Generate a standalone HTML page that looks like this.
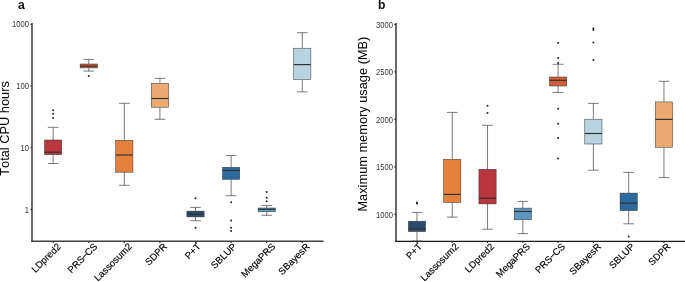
<!DOCTYPE html>
<html><head><meta charset="utf-8"><style>
html,body{margin:0;padding:0;background:#fff;}
svg{display:block;will-change:transform;}
text{font-family:"Liberation Sans",sans-serif;font-kerning:none;}
.tk{font-size:8.8px;fill:#333;}
.xl{font-size:9.6px;fill:#000;stroke:#000;stroke-width:0.15px;}
.pl{font-size:12.2px;font-weight:bold;fill:#111;}
.at{font-size:12.8px;fill:#000;}
</style></head><body>
<svg width="685" height="282" viewBox="0 0 685 282">
<g fill="none" stroke-linecap="butt">
<line x1="32.0" y1="23.0" x2="32.0" y2="242.0" stroke="#3a3a3a" stroke-width="1.5"/>
<line x1="31.3" y1="241.25" x2="323.6" y2="241.25" stroke="#404040" stroke-width="1.5"/>
<line x1="396.0" y1="22.9" x2="396.0" y2="242.0" stroke="#3a3a3a" stroke-width="1.5"/>
<line x1="395.3" y1="241.4" x2="685" y2="241.4" stroke="#1a1a1a" stroke-width="1.2"/>
</g>
<line x1="30.5" y1="24.3" x2="32" y2="24.3" stroke="#222" stroke-width="1.1"/>
<text class="tk" text-anchor="end" transform="translate(28.9,27.40) scale(0.87,1)">1000</text>
<line x1="30.5" y1="86.0" x2="32" y2="86.0" stroke="#222" stroke-width="1.1"/>
<text class="tk" text-anchor="end" transform="translate(28.9,89.10) scale(0.87,1)">100</text>
<line x1="30.5" y1="147.7" x2="32" y2="147.7" stroke="#222" stroke-width="1.1"/>
<text class="tk" text-anchor="end" transform="translate(28.9,150.80) scale(0.87,1)">10</text>
<line x1="30.5" y1="209.4" x2="32" y2="209.4" stroke="#222" stroke-width="1.1"/>
<text class="tk" text-anchor="end" transform="translate(28.9,212.50) scale(0.87,1)">1</text>
<line x1="394.4" y1="24.4" x2="396.0" y2="24.4" stroke="#222" stroke-width="1.1"/>
<text class="tk" text-anchor="end" transform="translate(392.9,27.50) scale(0.87,1)">3000</text>
<line x1="394.4" y1="71.9" x2="396.0" y2="71.9" stroke="#222" stroke-width="1.1"/>
<text class="tk" text-anchor="end" transform="translate(392.9,75.00) scale(0.87,1)">2500</text>
<line x1="394.4" y1="119.4" x2="396.0" y2="119.4" stroke="#222" stroke-width="1.1"/>
<text class="tk" text-anchor="end" transform="translate(392.9,122.50) scale(0.87,1)">2000</text>
<line x1="394.4" y1="166.9" x2="396.0" y2="166.9" stroke="#222" stroke-width="1.1"/>
<text class="tk" text-anchor="end" transform="translate(392.9,170.00) scale(0.87,1)">1500</text>
<line x1="394.4" y1="214.4" x2="396.0" y2="214.4" stroke="#222" stroke-width="1.1"/>
<text class="tk" text-anchor="end" transform="translate(392.9,217.50) scale(0.87,1)">1000</text>
<line x1="53.14" y1="127.30" x2="53.14" y2="140.00" stroke="#444444" stroke-width="0.7"/>
<line x1="53.14" y1="154.70" x2="53.14" y2="163.50" stroke="#444444" stroke-width="0.7"/>
<line x1="47.84" y1="127.30" x2="58.44" y2="127.30" stroke="#444444" stroke-width="0.7"/>
<line x1="47.84" y1="163.50" x2="58.44" y2="163.50" stroke="#444444" stroke-width="0.7"/>
<rect x="44.54" y="140.00" width="17.20" height="14.70" fill="#BA363E" stroke="#333333" stroke-width="0.5"/>
<line x1="44.54" y1="152.20" x2="61.74" y2="152.20" stroke="#333333" stroke-width="1.2"/>
<circle cx="53.14" cy="110.30" r="1.0" fill="#222"/>
<circle cx="53.14" cy="113.70" r="1.0" fill="#222"/>
<circle cx="53.14" cy="118.00" r="1.0" fill="#222"/>
<line x1="53.14" y1="241.5" x2="53.14" y2="243.0" stroke="#222" stroke-width="1.1"/>
<text class="xl" text-anchor="end" transform="translate(61.44,247.10) rotate(-45)">LDpred2</text>
<line x1="88.73" y1="59.40" x2="88.73" y2="64.00" stroke="#444444" stroke-width="0.7"/>
<line x1="88.73" y1="67.90" x2="88.73" y2="71.10" stroke="#444444" stroke-width="0.7"/>
<line x1="83.44" y1="59.40" x2="94.03" y2="59.40" stroke="#444444" stroke-width="0.7"/>
<line x1="83.44" y1="71.10" x2="94.03" y2="71.10" stroke="#444444" stroke-width="0.7"/>
<rect x="80.14" y="64.00" width="17.20" height="3.90" fill="#CF5E38" stroke="#333333" stroke-width="0.5"/>
<line x1="80.14" y1="66.20" x2="97.33" y2="66.20" stroke="#333333" stroke-width="1.2"/>
<circle cx="88.73" cy="76.10" r="1.0" fill="#222"/>
<line x1="88.73" y1="241.5" x2="88.73" y2="243.0" stroke="#222" stroke-width="1.1"/>
<text class="xl" text-anchor="end" transform="translate(98.03,247.10) rotate(-45)">PRS<tspan dx="-0.4">−</tspan><tspan dx="-0.6">CS</tspan></text>
<line x1="124.33" y1="103.30" x2="124.33" y2="140.30" stroke="#444444" stroke-width="0.7"/>
<line x1="124.33" y1="172.20" x2="124.33" y2="185.30" stroke="#444444" stroke-width="0.7"/>
<line x1="119.03" y1="103.30" x2="129.63" y2="103.30" stroke="#444444" stroke-width="0.7"/>
<line x1="119.03" y1="185.30" x2="129.63" y2="185.30" stroke="#444444" stroke-width="0.7"/>
<rect x="115.73" y="140.30" width="17.20" height="31.90" fill="#E5813B" stroke="#333333" stroke-width="0.5"/>
<line x1="115.73" y1="155.00" x2="132.93" y2="155.00" stroke="#333333" stroke-width="1.2"/>
<line x1="124.33" y1="241.5" x2="124.33" y2="243.0" stroke="#222" stroke-width="1.1"/>
<text class="xl" text-anchor="end" transform="translate(132.63,247.10) rotate(-45)">Lassosum2</text>
<line x1="159.93" y1="78.30" x2="159.93" y2="83.50" stroke="#444444" stroke-width="0.7"/>
<line x1="159.93" y1="107.20" x2="159.93" y2="119.30" stroke="#444444" stroke-width="0.7"/>
<line x1="154.62" y1="78.30" x2="165.23" y2="78.30" stroke="#444444" stroke-width="0.7"/>
<line x1="154.62" y1="119.30" x2="165.23" y2="119.30" stroke="#444444" stroke-width="0.7"/>
<rect x="151.33" y="83.50" width="17.20" height="23.70" fill="#EBAA72" stroke="#333333" stroke-width="0.5"/>
<line x1="151.33" y1="98.50" x2="168.53" y2="98.50" stroke="#333333" stroke-width="1.2"/>
<line x1="159.93" y1="241.5" x2="159.93" y2="243.0" stroke="#222" stroke-width="1.1"/>
<text class="xl" text-anchor="end" transform="translate(167.73,247.10) rotate(-45)">SDPR</text>
<line x1="195.52" y1="207.40" x2="195.52" y2="211.10" stroke="#444444" stroke-width="0.7"/>
<line x1="195.52" y1="216.90" x2="195.52" y2="220.70" stroke="#444444" stroke-width="0.7"/>
<line x1="190.22" y1="207.40" x2="200.82" y2="207.40" stroke="#444444" stroke-width="0.7"/>
<line x1="190.22" y1="220.70" x2="200.82" y2="220.70" stroke="#444444" stroke-width="0.7"/>
<rect x="186.92" y="211.10" width="17.20" height="5.80" fill="#2C4A6B" stroke="#333333" stroke-width="0.5"/>
<line x1="186.92" y1="214.30" x2="204.12" y2="214.30" stroke="#333333" stroke-width="1.2"/>
<circle cx="195.52" cy="198.30" r="1.0" fill="#222"/>
<circle cx="195.52" cy="227.80" r="1.0" fill="#222"/>
<line x1="195.52" y1="241.5" x2="195.52" y2="243.0" stroke="#222" stroke-width="1.1"/>
<text class="xl" text-anchor="end" transform="translate(201.42,247.10) rotate(-45)">P+T</text>
<line x1="231.12" y1="155.50" x2="231.12" y2="167.30" stroke="#444444" stroke-width="0.7"/>
<line x1="231.12" y1="179.40" x2="231.12" y2="195.70" stroke="#444444" stroke-width="0.7"/>
<line x1="225.81" y1="155.50" x2="236.42" y2="155.50" stroke="#444444" stroke-width="0.7"/>
<line x1="225.81" y1="195.70" x2="236.42" y2="195.70" stroke="#444444" stroke-width="0.7"/>
<rect x="222.52" y="167.30" width="17.20" height="12.10" fill="#2C6A9E" stroke="#333333" stroke-width="0.5"/>
<line x1="222.52" y1="170.50" x2="239.72" y2="170.50" stroke="#333333" stroke-width="1.2"/>
<circle cx="231.12" cy="202.20" r="1.0" fill="#222"/>
<circle cx="231.12" cy="220.40" r="1.0" fill="#222"/>
<circle cx="231.12" cy="227.80" r="1.0" fill="#222"/>
<circle cx="231.12" cy="231.00" r="1.0" fill="#222"/>
<line x1="231.12" y1="241.5" x2="231.12" y2="243.0" stroke="#222" stroke-width="1.1"/>
<text class="xl" text-anchor="end" transform="translate(237.02,247.10) rotate(-45)">SBLUP</text>
<line x1="266.71" y1="205.40" x2="266.71" y2="208.00" stroke="#444444" stroke-width="0.7"/>
<line x1="266.71" y1="211.80" x2="266.71" y2="215.30" stroke="#444444" stroke-width="0.7"/>
<line x1="261.41" y1="205.40" x2="272.01" y2="205.40" stroke="#444444" stroke-width="0.7"/>
<line x1="261.41" y1="215.30" x2="272.01" y2="215.30" stroke="#444444" stroke-width="0.7"/>
<rect x="258.11" y="208.00" width="17.20" height="3.80" fill="#5B98BF" stroke="#333333" stroke-width="0.5"/>
<line x1="258.11" y1="209.30" x2="275.31" y2="209.30" stroke="#333333" stroke-width="1.2"/>
<circle cx="266.71" cy="192.00" r="1.0" fill="#222"/>
<circle cx="266.71" cy="197.70" r="1.0" fill="#222"/>
<circle cx="266.71" cy="201.30" r="1.0" fill="#222"/>
<line x1="266.71" y1="241.5" x2="266.71" y2="243.0" stroke="#222" stroke-width="1.1"/>
<text class="xl" text-anchor="end" transform="translate(276.01,247.10) rotate(-45)">MegaPRS</text>
<line x1="302.31" y1="32.70" x2="302.31" y2="48.20" stroke="#444444" stroke-width="0.7"/>
<line x1="302.31" y1="79.50" x2="302.31" y2="91.90" stroke="#444444" stroke-width="0.7"/>
<line x1="297.00" y1="32.70" x2="307.61" y2="32.70" stroke="#444444" stroke-width="0.7"/>
<line x1="297.00" y1="91.90" x2="307.61" y2="91.90" stroke="#444444" stroke-width="0.7"/>
<rect x="293.70" y="48.20" width="17.20" height="31.30" fill="#B8D4E0" stroke="#333333" stroke-width="0.5"/>
<line x1="293.70" y1="64.60" x2="310.91" y2="64.60" stroke="#333333" stroke-width="1.2"/>
<line x1="302.31" y1="241.5" x2="302.31" y2="243.0" stroke="#222" stroke-width="1.1"/>
<text class="xl" text-anchor="end" transform="translate(310.41,247.10) rotate(-45)">SBayesR</text>
<line x1="416.96" y1="212.40" x2="416.96" y2="221.20" stroke="#444444" stroke-width="0.7"/>
<line x1="416.96" y1="231.60" x2="416.96" y2="241.00" stroke="#444444" stroke-width="0.7"/>
<line x1="411.66" y1="212.40" x2="422.26" y2="212.40" stroke="#444444" stroke-width="0.7"/>
<line x1="411.66" y1="241.00" x2="422.26" y2="241.00" stroke="#444444" stroke-width="0.7"/>
<rect x="408.36" y="221.20" width="17.20" height="10.40" fill="#2C4A6B" stroke="#333333" stroke-width="0.5"/>
<line x1="408.36" y1="228.60" x2="425.56" y2="228.60" stroke="#333333" stroke-width="1.2"/>
<circle cx="416.96" cy="202.60" r="1.0" fill="#222"/>
<circle cx="416.96" cy="203.60" r="1.0" fill="#222"/>
<line x1="416.96" y1="241.5" x2="416.96" y2="243.0" stroke="#222" stroke-width="1.1"/>
<text class="xl" text-anchor="end" transform="translate(422.66,247.10) rotate(-45)">P+T</text>
<line x1="452.25" y1="112.40" x2="452.25" y2="159.30" stroke="#444444" stroke-width="0.7"/>
<line x1="452.25" y1="202.50" x2="452.25" y2="217.10" stroke="#444444" stroke-width="0.7"/>
<line x1="446.95" y1="112.40" x2="457.55" y2="112.40" stroke="#444444" stroke-width="0.7"/>
<line x1="446.95" y1="217.10" x2="457.55" y2="217.10" stroke="#444444" stroke-width="0.7"/>
<rect x="443.65" y="159.30" width="17.20" height="43.20" fill="#E5813B" stroke="#333333" stroke-width="0.5"/>
<line x1="443.65" y1="194.40" x2="460.85" y2="194.40" stroke="#333333" stroke-width="1.2"/>
<line x1="452.25" y1="241.5" x2="452.25" y2="243.0" stroke="#222" stroke-width="1.1"/>
<text class="xl" text-anchor="end" transform="translate(459.15,247.10) rotate(-45)">Lassosum2</text>
<line x1="487.53" y1="125.30" x2="487.53" y2="169.30" stroke="#444444" stroke-width="0.7"/>
<line x1="487.53" y1="203.90" x2="487.53" y2="229.20" stroke="#444444" stroke-width="0.7"/>
<line x1="482.23" y1="125.30" x2="492.83" y2="125.30" stroke="#444444" stroke-width="0.7"/>
<line x1="482.23" y1="229.20" x2="492.83" y2="229.20" stroke="#444444" stroke-width="0.7"/>
<rect x="478.93" y="169.30" width="17.20" height="34.60" fill="#BA363E" stroke="#333333" stroke-width="0.5"/>
<line x1="478.93" y1="198.20" x2="496.13" y2="198.20" stroke="#333333" stroke-width="1.2"/>
<circle cx="487.53" cy="105.80" r="1.0" fill="#222"/>
<circle cx="487.53" cy="113.00" r="1.0" fill="#222"/>
<line x1="487.53" y1="241.5" x2="487.53" y2="243.0" stroke="#222" stroke-width="1.1"/>
<text class="xl" text-anchor="end" transform="translate(494.83,247.10) rotate(-45)">LDpred2</text>
<line x1="522.82" y1="201.40" x2="522.82" y2="208.10" stroke="#444444" stroke-width="0.7"/>
<line x1="522.82" y1="219.80" x2="522.82" y2="233.60" stroke="#444444" stroke-width="0.7"/>
<line x1="517.52" y1="201.40" x2="528.12" y2="201.40" stroke="#444444" stroke-width="0.7"/>
<line x1="517.52" y1="233.60" x2="528.12" y2="233.60" stroke="#444444" stroke-width="0.7"/>
<rect x="514.22" y="208.10" width="17.20" height="11.70" fill="#5B98BF" stroke="#333333" stroke-width="0.5"/>
<line x1="514.22" y1="211.50" x2="531.42" y2="211.50" stroke="#333333" stroke-width="1.2"/>
<line x1="522.82" y1="241.5" x2="522.82" y2="243.0" stroke="#222" stroke-width="1.1"/>
<text class="xl" text-anchor="end" transform="translate(530.72,247.10) rotate(-45)">MegaPRS</text>
<line x1="558.10" y1="64.30" x2="558.10" y2="77.00" stroke="#444444" stroke-width="0.7"/>
<line x1="558.10" y1="86.00" x2="558.10" y2="92.50" stroke="#444444" stroke-width="0.7"/>
<line x1="552.80" y1="64.30" x2="563.40" y2="64.30" stroke="#444444" stroke-width="0.7"/>
<line x1="552.80" y1="92.50" x2="563.40" y2="92.50" stroke="#444444" stroke-width="0.7"/>
<rect x="549.50" y="77.00" width="17.20" height="9.00" fill="#CF5E38" stroke="#333333" stroke-width="0.5"/>
<line x1="549.50" y1="80.30" x2="566.70" y2="80.30" stroke="#333333" stroke-width="1.2"/>
<circle cx="558.10" cy="43.00" r="1.0" fill="#222"/>
<circle cx="558.10" cy="58.00" r="1.0" fill="#222"/>
<circle cx="558.10" cy="63.00" r="1.0" fill="#222"/>
<circle cx="558.10" cy="108.70" r="1.0" fill="#222"/>
<circle cx="558.10" cy="123.80" r="1.0" fill="#222"/>
<circle cx="558.10" cy="137.90" r="1.0" fill="#222"/>
<circle cx="558.10" cy="158.40" r="1.0" fill="#222"/>
<line x1="558.10" y1="241.5" x2="558.10" y2="243.0" stroke="#222" stroke-width="1.1"/>
<text class="xl" text-anchor="end" transform="translate(565.70,247.10) rotate(-45)">PRS<tspan dx="-0.4">−</tspan><tspan dx="-0.6">CS</tspan></text>
<line x1="593.39" y1="103.40" x2="593.39" y2="119.20" stroke="#444444" stroke-width="0.7"/>
<line x1="593.39" y1="144.00" x2="593.39" y2="170.20" stroke="#444444" stroke-width="0.7"/>
<line x1="588.09" y1="103.40" x2="598.69" y2="103.40" stroke="#444444" stroke-width="0.7"/>
<line x1="588.09" y1="170.20" x2="598.69" y2="170.20" stroke="#444444" stroke-width="0.7"/>
<rect x="584.79" y="119.20" width="17.20" height="24.80" fill="#B8D4E0" stroke="#333333" stroke-width="0.5"/>
<line x1="584.79" y1="133.50" x2="601.99" y2="133.50" stroke="#333333" stroke-width="1.2"/>
<circle cx="593.39" cy="28.50" r="1.0" fill="#222"/>
<circle cx="593.39" cy="30.00" r="1.0" fill="#222"/>
<circle cx="593.39" cy="42.50" r="1.0" fill="#222"/>
<circle cx="593.39" cy="60.10" r="1.0" fill="#222"/>
<line x1="593.39" y1="241.5" x2="593.39" y2="243.0" stroke="#222" stroke-width="1.1"/>
<text class="xl" text-anchor="end" transform="translate(601.59,247.10) rotate(-45)">SBayesR</text>
<line x1="628.68" y1="172.40" x2="628.68" y2="193.10" stroke="#444444" stroke-width="0.7"/>
<line x1="628.68" y1="210.60" x2="628.68" y2="223.80" stroke="#444444" stroke-width="0.7"/>
<line x1="623.38" y1="172.40" x2="633.98" y2="172.40" stroke="#444444" stroke-width="0.7"/>
<line x1="623.38" y1="223.80" x2="633.98" y2="223.80" stroke="#444444" stroke-width="0.7"/>
<rect x="620.08" y="193.10" width="17.20" height="17.50" fill="#2C6A9E" stroke="#333333" stroke-width="0.5"/>
<line x1="620.08" y1="203.10" x2="637.28" y2="203.10" stroke="#333333" stroke-width="1.2"/>
<circle cx="628.68" cy="236.50" r="1.0" fill="#222"/>
<line x1="628.68" y1="241.5" x2="628.68" y2="243.0" stroke="#222" stroke-width="1.1"/>
<text class="xl" text-anchor="end" transform="translate(635.18,247.10) rotate(-45)">SBLUP</text>
<line x1="663.96" y1="81.30" x2="663.96" y2="101.90" stroke="#444444" stroke-width="0.7"/>
<line x1="663.96" y1="147.30" x2="663.96" y2="177.60" stroke="#444444" stroke-width="0.7"/>
<line x1="658.66" y1="81.30" x2="669.26" y2="81.30" stroke="#444444" stroke-width="0.7"/>
<line x1="658.66" y1="177.60" x2="669.26" y2="177.60" stroke="#444444" stroke-width="0.7"/>
<rect x="655.36" y="101.90" width="17.20" height="45.40" fill="#EBAA72" stroke="#333333" stroke-width="0.5"/>
<line x1="655.36" y1="119.40" x2="672.56" y2="119.40" stroke="#333333" stroke-width="1.2"/>
<line x1="663.96" y1="241.5" x2="663.96" y2="243.0" stroke="#222" stroke-width="1.1"/>
<text class="xl" text-anchor="end" transform="translate(671.06,247.10) rotate(-45)">SDPR</text>
<text class="pl" x="18" y="8.8">a</text>
<text class="pl" x="378" y="8.8">b</text>
<text class="at" text-anchor="middle" transform="translate(8.8,128.5) rotate(-90)">Total CPU hours</text>
<text class="at" text-anchor="middle" transform="translate(367,124.1) rotate(-90)">Maximum memory usage (MB)</text>
</svg>
</body></html>
